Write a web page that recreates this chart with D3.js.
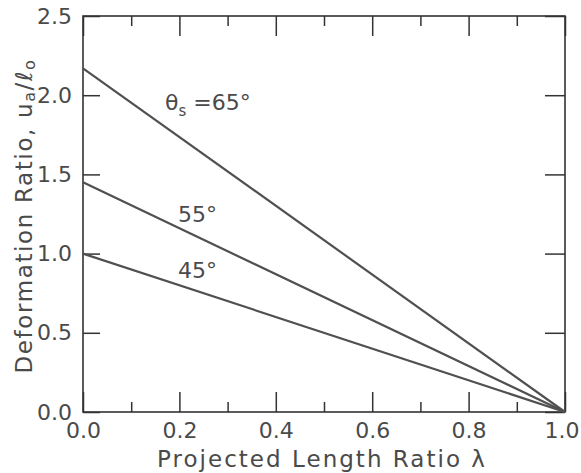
<!DOCTYPE html>
<html>
<head>
<meta charset="utf-8">
<script src="https://cdn.jsdelivr.net/npm/d3@7"></script>
<style>
  body { margin: 0; background: #fff; }
  svg text { font-family: "DejaVu Sans", sans-serif; fill: #4a4a4a; }
</style>
</head>
<body>
<svg id="chart" width="581" height="473"></svg>
<script>
// Data
const lambda = [0.0, 1.0];
const curves = [
    { label: "65°", values: [2.17, 0.0] },
    { label: "55°", values: [1.45, 0.0] },
    { label: "45°", values: [1.0, 0.0] }
];
const xMajor = [0.0, 0.2, 0.4, 0.6, 0.8, 1.0];
const xMinor = [0.1, 0.3, 0.5, 0.7, 0.9];
const yMajor = [0.0, 0.5, 1.0, 1.5, 2.0, 2.5];

const svg = d3.select("#chart");
const margin = { top: 16, right: 16, bottom: 61, left: 83 };
const width = 581 - margin.left - margin.right;
const height = 473 - margin.top - margin.bottom;

const g = svg.append("g")
    .attr("transform", `translate(${margin.left},${margin.top})`);

const x = d3.scaleLinear().domain([0, 1]).range([0, width]);
const y = d3.scaleLinear().domain([0, 2.5]).range([height, 0]);

const fmt = d3.format(".1f");
const styleLabels = a => a.selectAll("text")
    .attr("font-size", 22)
    .attr("font-family", "DejaVu Sans")
    .attr("fill", "#4a4a4a");

// bottom axis, ticks pointing inward
const xAxisG = g.append("g")
    .attr("transform", `translate(0,${height})`)
    .call(d3.axisBottom(x).tickValues(xMajor).tickSize(-20).tickPadding(10).tickFormat(fmt))
    .call(styleLabels);
// last label sits against the right edge, as in the figure
xAxisG.selectAll(".tick text")
    .filter(d => d === 1)
    .attr("text-anchor", "end")
    .attr("x", 14);
g.append("g")
    .attr("transform", `translate(0,${height})`)
    .call(d3.axisBottom(x).tickValues(xMinor).tickSize(-10).tickFormat(""));

// top axis
g.append("g")
    .call(d3.axisTop(x).tickValues(xMajor).tickSize(-20).tickFormat(""));
g.append("g")
    .call(d3.axisTop(x).tickValues(xMinor).tickSize(-10).tickFormat(""));

// left and right axes
g.append("g")
    .call(d3.axisLeft(y).tickValues(yMajor).tickSize(-17).tickPadding(11).tickFormat(fmt))
    .call(styleLabels);
g.append("g")
    .attr("transform", `translate(${width},0)`)
    .call(d3.axisRight(y).tickValues(yMajor).tickSize(-20).tickFormat(""));

g.selectAll(".domain").remove();
g.selectAll(".tick line").attr("stroke", "#333").attr("stroke-width", 1.5);

// frame
g.append("rect")
    .attr("width", width)
    .attr("height", height)
    .attr("fill", "none")
    .attr("stroke", "#333")
    .attr("stroke-width", 1.6);

// curves
const line = d3.line()
    .x((d, i) => x(lambda[i]))
    .y(d => y(d));

g.selectAll(".curve")
    .data(curves)
    .enter().append("path")
    .attr("class", "curve")
    .attr("d", d => line(d.values))
    .attr("fill", "none")
    .attr("stroke", "#505050")
    .attr("stroke-width", 2.2);

// curve labels
const lab65 = g.append("text")
    .attr("x", x(0.17))
    .attr("y", y(1.905))
    .attr("font-size", 22);
lab65.append("tspan").text("θ");
lab65.append("tspan").attr("font-size", 15).attr("dy", 6).text("s");
lab65.append("tspan").attr("dy", -6).text(" =" + curves[0].label);

g.append("text")
    .attr("x", x(0.197))
    .attr("y", y(1.2))
    .attr("font-size", 22)
    .text(curves[1].label);

g.append("text")
    .attr("x", x(0.197))
    .attr("y", y(0.846))
    .attr("font-size", 22)
    .text(curves[2].label);

// stretch a title to the width it has in the figure
function fitWidth(sel, target) {
    const w = sel.node().getComputedTextLength();
    const n = sel.text().length;
    sel.attr("letter-spacing", (target - w) / n);
}

// axis titles
const xt = svg.append("text")
    .attr("x", 322)
    .attr("y", 467)
    .attr("text-anchor", "middle")
    .attr("font-size", 23)
    .text("Projected Length Ratio λ");
fitWidth(xt, 330);

const yt = svg.append("text")
    .attr("transform", "translate(32,216) rotate(-90)")
    .attr("text-anchor", "middle")
    .attr("font-size", 23);
yt.append("tspan").text("Deformation Ratio, u");
yt.append("tspan").attr("font-size", 16).attr("dy", 3).text("a");
yt.append("tspan").attr("dy", -3).text("/ℓ");
yt.append("tspan").attr("font-size", 16).attr("dy", 3).text("o");
fitWidth(yt, 315);
</script>
</body>
</html>
